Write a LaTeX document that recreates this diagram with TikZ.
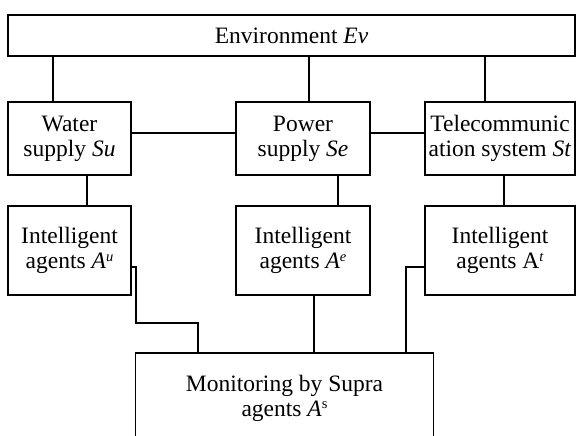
\documentclass[tikz,border=0pt]{standalone}
\usepackage{fontspec}
\setmainfont{Liberation Serif}
% raised index in the style of a word-processor superscript
\newcommand\upidx[1]{\raisebox{0.32em}{\fontsize{14.5}{14.5}\selectfont #1}}
\begin{document}
\begin{tikzpicture}[x=1pt,y=-1pt,
  blk/.style={draw, line width=1.5pt, inner sep=0pt, align=center,
    font=\fontsize{23.5}{25}\selectfont},
  txt/.style={inner sep=0pt, align=center, font=\fontsize{23.5}{25}\selectfont},
  link/.style={line width=1.5pt}]
\useasboundingbox (0,0) rectangle (576,436);
\clip (0,0) rectangle (576,436);

% top level
\node[blk, minimum width=567pt, minimum height=41pt] (env) at (291.5,35.5) {Environment \textit{Ev}};

% subsystems
\node[blk, minimum width=123pt, minimum height=73pt] (water) at (69.5,138.5) {Water\\supply \textit{Su}};
\node[blk, minimum width=134pt, minimum height=73pt] (power) at (303,138.5) {Power\\supply \textit{Se}};
\node[blk, minimum width=150pt, minimum height=73pt] (tele) at (500,138.5) {Telecommunic\\ation system \textit{St}};

% agents
\node[blk, minimum width=123pt, minimum height=89pt] (agu) at (69.5,250.5) {Intelligent\\agents \textit{A}\upidx{\textit{u}}};
\node[blk, minimum width=134pt, minimum height=89pt] (age) at (303,250.5) {Intelligent\\agents \textit{A}\upidx{\textit{e}}};
\node[blk, minimum width=150pt, minimum height=89pt] (agt) at (500,250.5) {Intelligent\\agents A\upidx{\textit{t}}};

% supervisory level (lower edge runs past the frame)
\node[blk, minimum width=298pt, minimum height=107pt] (mon) at (284.5,406.5) {};
\node[txt, anchor=north] (montext) at (284.5,375) {Monitoring by Supra\\agents \textit{A}\upidx{s}};

% environment links
\draw[link] (53,0 |- env.south) -- (53,0 |- water.north);
\draw[link] (309,0 |- env.south) -- (309,0 |- power.north);
\draw[link] (485,0 |- env.south) -- (485,0 |- tele.north);

% links between subsystems
\draw[link] (water.east |- 0,133) -- (power.west |- 0,133);
\draw[link] (power.east |- 0,133) -- (tele.west |- 0,133);

% subsystem to agent links
\draw[link] (87,0 |- water.south) -- (87,0 |- agu.north);
\draw[link] (338,0 |- power.south) -- (338,0 |- age.north);
\draw[link] (504,0 |- tele.south) -- (504,0 |- agt.north);

% agents to supra agents
\draw[link] (agu.east |- 0,267) -- (136,267) -- (136,323) -- (198,323) -- (198,0 |- mon.north);
\draw[link] (314,0 |- age.south) -- (314,0 |- mon.north);
\draw[link] (agt.west |- 0,267) -- (406,267) -- (406,0 |- mon.north);
\end{tikzpicture}
\end{document}
